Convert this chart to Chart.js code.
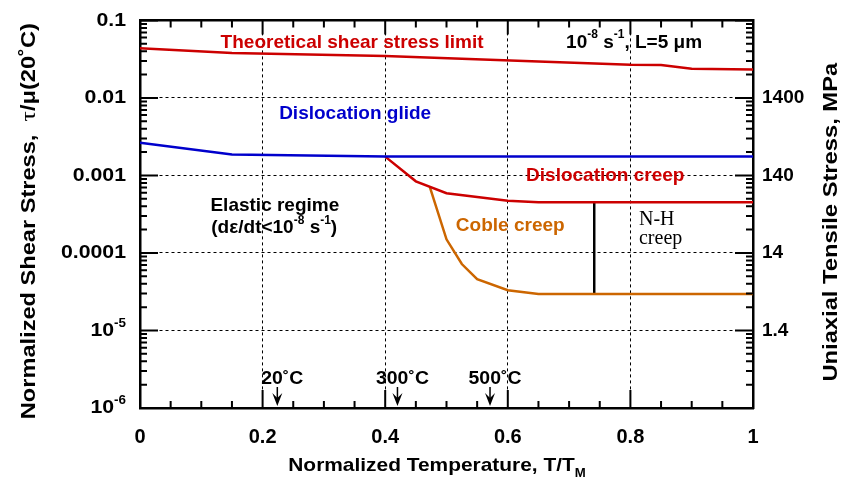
<!DOCTYPE html>
<html>
<head>
<meta charset="utf-8">
<script src="https://cdn.jsdelivr.net/npm/chart.js@4.4.0/dist/chart.umd.min.js"></script>
<style>
  html, body { margin: 0; padding: 0; background: #fff; }
</style>
</head>
<body>
<canvas id="deformation-map" width="844" height="481"></canvas>
<script>
// --- data (T/TM vs tau/mu) ---
const theoT    = [0, 0.15, 0.4, 0.65, 0.8, 0.85, 0.9, 1];
const theoTau  = [0.0438, 0.0381, 0.0348, 0.0294, 0.0267, 0.0265, 0.0238, 0.0233];
const glideT   = [0, 0.15, 0.4, 1];
const glideTau = [0.00265, 0.00186, 0.00175, 0.00175];
const creepT   = [0.4, 0.45, 0.5, 0.6, 0.65, 1];
const creepTau = [0.00175, 0.00084, 0.00059, 0.00047, 0.00045, 0.00045];
const cobleT   = [0.473, 0.5, 0.525, 0.55, 0.6, 0.65, 1];
const cobleTau = [0.0007, 0.00015, 0.000072, 0.000046, 0.000033, 0.0000295, 0.0000295];
const nhT      = [0.741, 0.741];
const nhTau    = [0.00045, 0.0000295];

const xTicks = [0, 0.2, 0.4, 0.6, 0.8, 1];
const leftTickVals = [1e-1, 1e-2, 1e-3, 1e-4, 1e-5, 1e-6];
const leftTickLabels = ['0.1', '0.01', '0.001', '0.0001', '10^{-5}', '10^{-6}'];
const mpaPerTau = 1.4e5;
const rightTickVals = [1.4, 14, 140, 1400];
const rightTickLabels = ['1.4', '14', '140', '1400'];
const markerT = [0.224, 0.42, 0.571];
const markerLabels = ['20˚C', '300˚C', '500˚C'];

const SANS = '"Liberation Sans", Arial, sans-serif';
const SERIF = '"Liberation Serif", "Times New Roman", serif';
const RED = '#CC0000';
const BLUE = '#0000CC';
const ORANGE = '#CC6600';

function series(label, xs, ys, color) {
  return {
    label: label,
    data: xs.map((t, i) => ({ x: t, y: ys[i] })),
    borderColor: color,
    borderWidth: 2.5,
    pointRadius: 0,
    fill: false,
    tension: 0,
    xAxisID: 'x',
    yAxisID: 'y'
  };
}

// text with ^{sup} and _{sub}
function parseMarkup(str, size, weight, family) {
  const segs = [];
  const re = /([\^_])\{([^}]*)\}/g;
  const base = weight + ' ' + size + 'px ' + family;
  const small = weight + ' ' + Math.round(size * 0.62) + 'px ' + family;
  let last = 0, m;
  while ((m = re.exec(str))) {
    if (m.index > last) segs.push({ t: str.slice(last, m.index), font: base });
    segs.push({ t: m[2], font: small, dy: m[1] === '^' ? -size * 0.38 : size * 0.4 });
    last = re.lastIndex;
  }
  if (last < str.length) segs.push({ t: str.slice(last), font: base });
  return segs;
}

function drawRich(ctx, segs, x, y, align, sx, rot) {
  let w = 0;
  segs.forEach(s => { ctx.font = s.font; s.w = ctx.measureText(s.t).width; w += s.w; });
  ctx.save();
  ctx.translate(x, y);
  if (rot) ctx.rotate(rot);
  ctx.scale(sx || 1, 1);
  let cx = align === 'center' ? -w / 2 : align === 'right' ? -w : 0;
  ctx.textAlign = 'left';
  ctx.textBaseline = 'middle';
  segs.forEach(s => { ctx.font = s.font; ctx.fillText(s.t, cx, s.dy || 0); cx += s.w; });
  ctx.restore();
}

// notes placed in data coordinates
const notes = [
  { text: 'Theoretical shear stress limit', t: 0.346, tau: 0.0522, color: RED, size: 19 },
  { text: '10^{-8} s^{-1}, L=5 μm', t: 0.806, tau: 0.0522, color: '#000', size: 19 },
  { text: 'Dislocation glide', t: 0.351, tau: 0.00624, color: BLUE, size: 19 },
  { text: 'Dislocation creep', t: 0.759, tau: 0.001, color: RED, size: 19 },
  { text: 'Coble creep', t: 0.604, tau: 0.000222, color: ORANGE, size: 19 },
  { text: 'Elastic regime', t: 0.22, tau: 0.000412, color: '#000', size: 19 },
  { text: '(dε/dt<10^{-8} s^{-1})', t: 0.219, tau: 0.000209, color: '#000', size: 19 }
];

const extras = {
  id: 'extras',
  afterDraw(chart) {
    const { ctx, chartArea: a, scales: { x, y } } = chart;
    ctx.save();
    ctx.strokeStyle = '#000';
    ctx.fillStyle = '#000';
    ctx.lineWidth = 2;

    // inward ticks on all four sides
    ctx.beginPath();
    for (let i = 0; i <= 20; i++) {
      const px = x.getPixelForValue(i * 0.05);
      const major = i % 4 === 0;
      ctx.moveTo(px, a.bottom); ctx.lineTo(px, a.bottom - (major ? 18 : 7));
      ctx.moveTo(px, a.top); ctx.lineTo(px, a.top + (major ? 14 : 7));
    }
    for (let d = -6; d <= -1; d++) {
      for (let m = 1; m <= 9; m++) {
        const v = m * Math.pow(10, d);
        if (v > 0.1000001) break;
        const py = y.getPixelForValue(v);
        const len = m === 1 ? 18 : 7;
        ctx.moveTo(a.left, py); ctx.lineTo(a.left + len, py);
        ctx.moveTo(a.right, py); ctx.lineTo(a.right - len, py);
      }
    }
    ctx.stroke();

    // left tick labels
    leftTickVals.forEach((v, i) => {
      drawRich(ctx, parseMarkup(leftTickLabels[i], 19, 'bold', SANS), a.left - 14, y.getPixelForValue(v), 'right', 1.12);
    });

    // axis titles
    const leftTitle = parseMarkup('Normalized Shear Stress,  ', 20, 'bold', SANS)
      .concat([{ t: 'τ', font: 'normal 22px ' + SERIF }])
      .concat(parseMarkup('/μ(20˚C)', 20, 'bold', SANS));
    drawRich(ctx, leftTitle, 29, (a.top + a.bottom) / 2 + 7, 'center', 1.18, -Math.PI / 2);
    drawRich(ctx, parseMarkup('Uniaxial Tensile Stress, MPa', 21, 'bold', SANS), 831, (a.top + a.bottom) / 2 + 8, 'center', 1.13, -Math.PI / 2);
    drawRich(ctx, parseMarkup('Normalized Temperature, T/T_{M}', 19, 'bold', SANS), 437, 466, 'center', 1.1);

    // notes
    notes.forEach(n => {
      ctx.fillStyle = n.color;
      drawRich(ctx, parseMarkup(n.text, n.size, 'bold', SANS), x.getPixelForValue(n.t), y.getPixelForValue(n.tau), 'center', 1);
    });
    ctx.fillStyle = '#000';
    const nhX = x.getPixelForValue(0.814);
    drawRich(ctx, [{ t: 'N-H', font: 'normal 20px ' + SERIF }], nhX, y.getPixelForValue(0.000265), 'left', 1);
    drawRich(ctx, [{ t: 'creep', font: 'normal 20px ' + SERIF }], nhX, y.getPixelForValue(0.000151), 'left', 1);

    // temperature markers with arrows
    markerT.forEach((t, i) => {
      const px = x.getPixelForValue(t);
      ctx.lineWidth = 1.5;
      ctx.beginPath();
      ctx.moveTo(px, a.bottom - 21); ctx.lineTo(px, a.bottom - 8);
      ctx.stroke();
      ctx.beginPath();
      ctx.moveTo(px - 5, a.bottom - 15);
      ctx.lineTo(px, a.bottom - 2);
      ctx.lineTo(px + 5, a.bottom - 15);
      ctx.lineTo(px, a.bottom - 10);
      ctx.closePath();
      ctx.fill();
      drawRich(ctx, parseMarkup(markerLabels[i], 18, 'bold', SANS), px + 5, a.bottom - 29, 'center', 1.08);
    });
    ctx.restore();
  }
};

const gridDash = { color: '#000', width: 2.5, dash: [3, 3] };

new Chart(document.getElementById('deformation-map'), {
  type: 'line',
  data: {
    datasets: [
      series('Theoretical shear stress limit', theoT, theoTau, RED),
      series('Dislocation glide', glideT, glideTau, BLUE),
      series('Dislocation creep', creepT, creepTau, RED),
      series('Coble creep', cobleT, cobleTau, ORANGE),
      series('N-H creep', nhT, nhTau, '#000')
    ]
  },
  options: {
    responsive: false,
    animation: false,
    devicePixelRatio: 1,
    layout: { padding: { top: 18, left: 0, right: 0, bottom: 0 } },
    plugins: { legend: { display: false }, tooltip: { enabled: false } },
    scales: {
      x: {
        type: 'linear', position: 'bottom', min: 0, max: 1,
        afterBuildTicks: s => { s.ticks = xTicks.map(v => ({ value: v })); },
        afterFit: s => { s.height = 73; },
        ticks: {
          color: '#000', padding: 17, maxRotation: 0,
          font: { family: SANS, size: 20, weight: 'bold' },
          callback: v => String(v)
        },
        grid: { color: '#000', lineWidth: 1, drawTicks: false },
        border: gridDash
      },
      x2: {
        type: 'linear', position: 'top', min: 0, max: 1,
        afterFit: s => { s.height = 0; },
        ticks: { display: false },
        grid: { display: false, drawTicks: false },
        border: { color: '#000', width: 2.5 }
      },
      y: {
        type: 'logarithmic', position: 'left', min: 1e-6, max: 0.1,
        afterBuildTicks: s => { s.ticks = leftTickVals.map(v => ({ value: v, major: true })); },
        afterFit: s => { s.width = 140; },
        ticks: { display: false },
        grid: { color: '#000', lineWidth: 1, drawTicks: false },
        border: gridDash
      },
      y2: {
        type: 'logarithmic', position: 'right',
        min: 1e-6 * mpaPerTau, max: 0.1 * mpaPerTau,
        afterBuildTicks: s => { s.ticks = rightTickVals.map(v => ({ value: v, major: true })); },
        afterFit: s => { s.width = 91; },
        ticks: {
          color: '#000', padding: 9,
          font: { family: SANS, size: 19, weight: 'bold' },
          callback: (v, i) => rightTickLabels[i]
        },
        grid: { display: false, drawTicks: false },
        border: { color: '#000', width: 2.5 }
      }
    }
  },
  plugins: [extras]
});
</script>
</body>
</html>
